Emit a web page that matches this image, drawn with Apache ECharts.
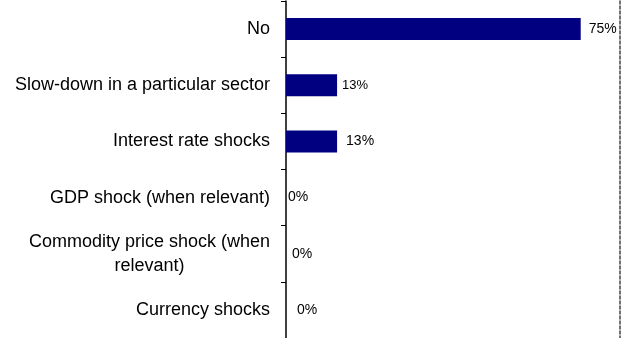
<!DOCTYPE html>
<html>
<head>
<meta charset="utf-8">
<script src="https://cdn.jsdelivr.net/npm/echarts@6/dist/echarts.min.js"></script>
<style>
  html, body { margin: 0; padding: 0; background: #fff; }
  #chart { width: 630px; height: 338px; }
</style>
</head>
<body>
<div id="chart"></div>
<script>
// Survey answers, listed top to bottom
const categories = [
  'No',
  'Slow-down in a particular sector',
  'Interest rate shocks',
  'GDP shock (when relevant)',
  'Commodity price shock (when relevant)',
  'Currency shocks'
];
// Share of respondents, percent
const shares = [75, 13, 13, 0, 0, 0];

// Gap between bar end and its value label, per bar
const labelGaps = [8, 5, 9, 2, 6, 11];
const labelSizes = [14, 13, 14, 14, 14, 14];

const FONT = '"Liberation Sans", Arial, sans-serif';

// Greedy word wrap by character count
function wrap(text, maxChars) {
  const words = text.split(' ');
  const lines = [];
  let cur = '';
  words.forEach(w => {
    const next = cur ? cur + ' ' + w : w;
    if (next.length > maxChars && cur) {
      lines.push(cur);
      cur = w;
    } else {
      cur = next;
    }
  });
  if (cur) lines.push(cur);
  return lines;
}

const chart = echarts.init(document.getElementById('chart'), null, { renderer: 'canvas' });

chart.setOption({
  animation: false,
  backgroundColor: '#ffffff',
  grid: { left: 286, right: 10, top: 1, bottom: 0, containLabel: false },
  xAxis: {
    type: 'value',
    min: 0,
    max: 85,
    axisLine: { show: false },
    axisTick: { show: false },
    axisLabel: { show: false },
    splitLine: { show: false }
  },
  yAxis: [
    {
      type: 'category',
      data: categories,
      inverse: true,
      axisLine: { show: true, lineStyle: { color: '#000', width: 1.5 } },
      axisTick: { show: true, length: 5, lineStyle: { color: '#000', width: 1 } },
      axisLabel: {
        margin: 16,
        align: 'right',
        fontFamily: FONT,
        fontSize: 18,
        color: '#000',
        lineHeight: 24,
        formatter: v => wrap(v, 32).map(l => '{c|' + l + '}').join('\n'),
        rich: {
          c: { align: 'center', fontFamily: FONT, fontSize: 18, color: '#000', lineHeight: 24 }
        }
      }
    },
    {
      type: 'category',
      data: categories,
      inverse: true,
      position: 'right',
      axisLine: { show: true, lineStyle: { color: '#444', width: 1.5, type: [3, 2] } },
      axisTick: { show: false },
      axisLabel: { show: false }
    }
  ],
  series: [
    {
      type: 'bar',
      yAxisIndex: 0,
      barWidth: 22,
      itemStyle: { color: '#000080' },
      data: shares.map((v, i) => ({
        value: v,
        label: { distance: labelGaps[i], fontSize: labelSizes[i] }
      })),
      label: {
        show: true,
        position: 'right',
        fontFamily: FONT,
        color: '#000',
        formatter: p => p.value + '%'
      }
    }
  ]
});
</script>
</body>
</html>
